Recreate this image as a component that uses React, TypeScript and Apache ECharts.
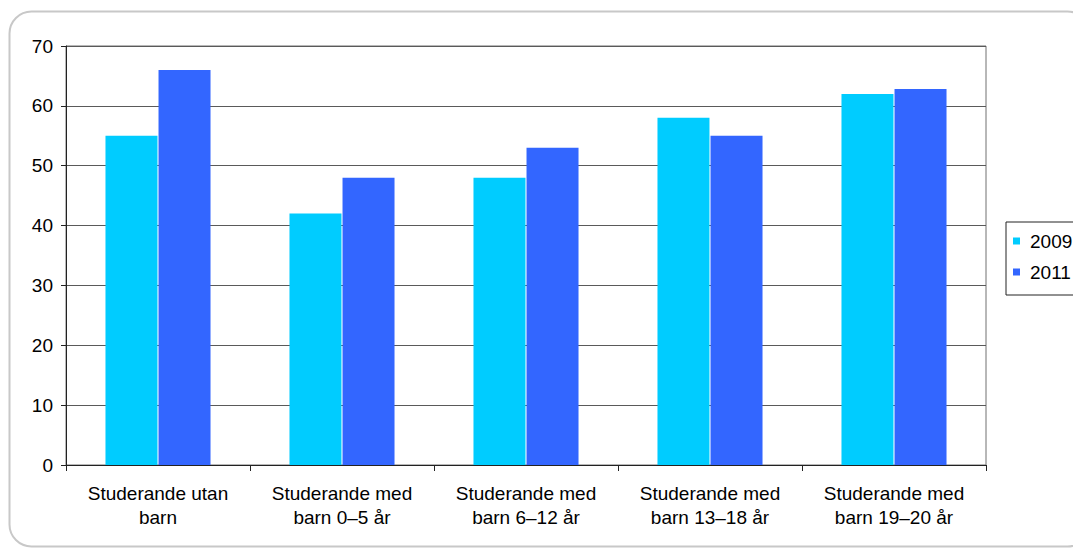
import React, { useEffect, useRef } from "react";
import * as echarts from "echarts";

const categories = [
  "Studerande utan\nbarn",
  "Studerande med\nbarn 0–5 år",
  "Studerande med\nbarn 6–12 år",
  "Studerande med\nbarn 13–18 år",
  "Studerande med\nbarn 19–20 år",
];
const seriesNames = ["2009", "2011"];
const values2009 = [55, 42, 48, 58, 62];
const values2011 = [66, 48, 53, 55, 62.8];
const yMin = 0;
const yMax = 70;
const yInterval = 10;

const FONT = "'Liberation Sans', Arial, sans-serif";

export default function App() {
  const ref = useRef<HTMLDivElement>(null);
  useEffect(() => {
    if (!ref.current) return;
    const chart = echarts.init(ref.current, undefined, { renderer: "svg" });
    chart.setOption({
      animation: false,
      backgroundColor: "#ffffff",
      textStyle: { fontFamily: FONT },
      grid: {
        left: 66,
        top: 46,
        right: 87,
        bottom: 85,
        show: true,
        borderColor: "#707070",
        borderWidth: 1,
        backgroundColor: "transparent",
      },
      legend: {
        data: seriesNames,
        orient: "vertical",
        left: 1006,
        top: 222,
        itemWidth: 7,
        itemHeight: 7,
        itemGap: 11,
        icon: "rect",
        borderColor: "#222",
        borderWidth: 1,
        borderRadius: 0,
        padding: [9, 14, 13, 7],
        textStyle: {
          fontFamily: FONT,
          fontSize: 19,
          color: "#000",
          lineHeight: 20,
          padding: [0, 0, 0, 5],
        },
      },
      xAxis: {
        type: "category",
        data: categories,
        axisLine: { show: true, lineStyle: { color: "#222", width: 1 } },
        axisTick: { show: true, length: 6, alignWithLabel: false, lineStyle: { color: "#222" } },
        axisLabel: {
          fontFamily: FONT,
          fontSize: 19,
          color: "#000",
          lineHeight: 24,
          margin: 16,
          interval: 0,
          align: "center",
        },
        splitLine: { show: false },
      },
      yAxis: {
        type: "value",
        min: yMin,
        max: yMax,
        interval: yInterval,
        axisLine: { show: true, lineStyle: { color: "#222", width: 1 } },
        axisTick: { show: true, inside: false, length: 5, lineStyle: { color: "#222" } },
        axisLabel: {
          fontFamily: FONT,
          fontSize: 19,
          color: "#000",
          margin: 13,
        },
        splitLine: { show: true, lineStyle: { color: "#5a5a5a", width: 1 } },
      },
      series: [
        {
          name: seriesNames[0],
          type: "bar",
          data: values2009,
          barWidth: 52,
          barGap: "2%",
          itemStyle: { color: "#00CCFF" },
        },
        {
          name: seriesNames[1],
          type: "bar",
          data: values2011,
          barWidth: 52,
          barGap: "2%",
          itemStyle: { color: "#3366FF" },
        },
      ],
      graphic: [
        {
          type: "rect",
          silent: true,
          z: -1,
          shape: { x: 9.5, y: 11.5, width: 1080, height: 535, r: 22 },
          style: { fill: "none", stroke: "#c8c8c8", lineWidth: 2 },
        },
      ],
    });
    return () => chart.dispose();
  }, []);
  return (
    <div
      ref={ref}
      style={{ position: "fixed", left: 0, top: 0, width: 1073, height: 550 }}
    />
  );
}
